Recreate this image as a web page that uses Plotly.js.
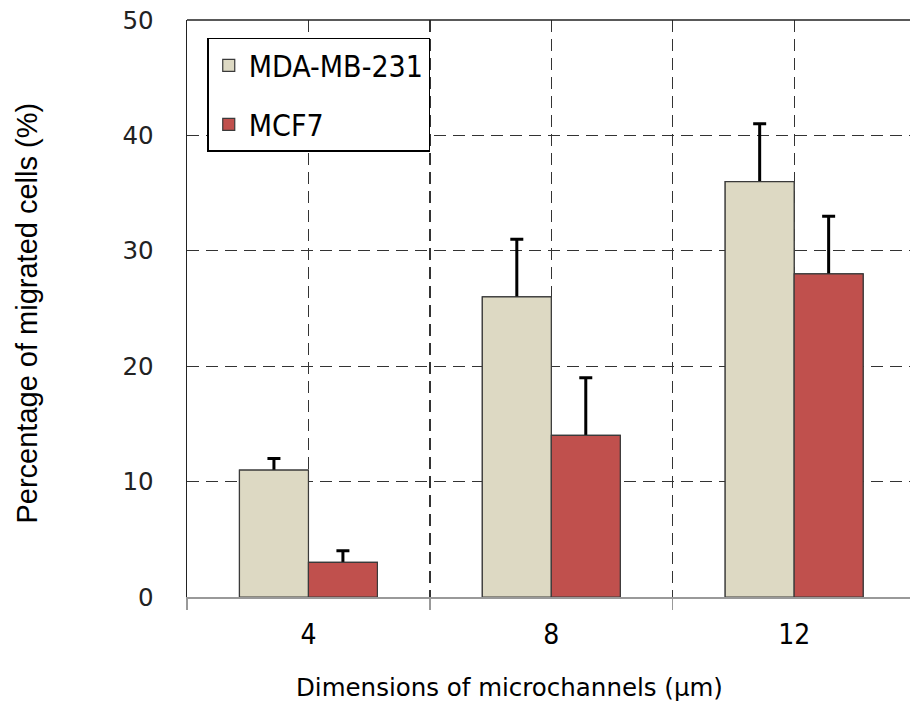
<!DOCTYPE html>
<html>
<head>
<meta charset="utf-8">
<script src="https://cdn.plot.ly/plotly-3.0.1.min.js"></script>
<style>html,body{margin:0;padding:0;background:#fff;}#chart{width:910px;height:710px;}</style>
</head>
<body>
<div id="chart"></div>
<script>
// Data
const categories = ['4', '8', '12'];
const seriesNames = ['MDA-MB-231', 'MCF7'];
const mdaValues = [11, 26, 36];
const mdaErrors = [1, 5, 5];
const mcfValues = [3, 14, 28];
const mcfErrors = [1, 5, 5];
const yTicks = [0, 10, 20, 30, 40, 50];
const xTitle = 'Dimensions of microchannels (µm)';
const yTitle = 'Percentage of migrated cells (%)';

const xPos = categories.map((c, i) => i);
const colors = ['#DDD9C3', '#C0504D'];
const outline = {color: '#3a3a3a', width: 1.2};

// Error bars run from the bar top upward; the lower end is hidden under a cover bar
function errTrace(name, vals, errs, color, group) {
  return {
    type: 'bar', name: name, x: xPos, y: vals, offsetgroup: group, legendgroup: group,
    marker: {color: color, line: outline},
    error_y: {type: 'data', symmetric: false, array: errs, arrayminus: vals,
              color: '#000', thickness: 3, width: 6.5}
  };
}
function coverTrace(name, vals, color, group) {
  return {
    type: 'bar', name: name, x: xPos, y: vals, offsetgroup: group, legendgroup: group,
    showlegend: false, hoverinfo: 'skip',
    marker: {color: color, line: outline}
  };
}

const traces = [
  errTrace(seriesNames[0], mdaValues, mdaErrors, colors[0], 'a'),
  errTrace(seriesNames[1], mcfValues, mcfErrors, colors[1], 'b'),
  coverTrace(seriesNames[0], mdaValues, colors[0], 'a'),
  coverTrace(seriesNames[1], mcfValues, colors[1], 'b')
];

const gridDash = '12px,7px';
const gridColor = '#333';
const layout = {
  width: 910, height: 710,
  margin: {l: 187, r: 0, t: 20, b: 113},
  paper_bgcolor: '#fff', plot_bgcolor: '#fff',
  font: {family: 'DejaVu Sans, Verdana, sans-serif', color: '#000', size: 22},
  barmode: 'group', bargap: 0.432, bargroupgap: 0,
  showlegend: true,
  legend: {
    x: 0.028, y: 0.969, xanchor: 'left', yanchor: 'top',
    bgcolor: '#fff', bordercolor: '#000', borderwidth: 1.5,
    font: {family: 'DejaVu Sans Condensed, Liberation Sans, sans-serif', size: 30, color: '#000'},
    tracegroupgap: 17
  },
  xaxis: {
    type: 'linear', range: [-0.5, 2.477],
    tickmode: 'array', tickvals: xPos, ticktext: categories,
    ticks: '', ticklabelstandoff: 12,
    tickfont: {family: 'DejaVu Sans Condensed, Liberation Sans, sans-serif', size: 28},
    showline: true, linecolor: '#999', linewidth: 1.5,
    showgrid: true, gridcolor: gridColor, gridwidth: 1.3, griddash: gridDash,
    zeroline: false,
    minor: {tick0: -0.5, dtick: 1, ticks: 'outside', ticklen: 11, tickcolor: '#999', tickwidth: 1.5,
            showgrid: true, gridcolor: gridColor, gridwidth: 1.3, griddash: gridDash}
  },
  yaxis: {
    range: [0, 50], tickmode: 'array', tickvals: yTicks,
    ticks: '', ticklabelstandoff: 27,
    tickfont: {size: 24.5, color: '#222'},
    showline: true, linecolor: '#222', linewidth: 1.5,
    showgrid: true, gridcolor: gridColor, gridwidth: 1.3, griddash: gridDash,
    zeroline: false
  },
  annotations: [
    {text: xTitle, xref: 'paper', yref: 'paper', x: 0.446, y: -0.157,
     xanchor: 'center', yanchor: 'middle', showarrow: false,
     font: {family: 'DejaVu Sans, Verdana, sans-serif', size: 24.5, color: '#000'}},
    {text: yTitle, xref: 'paper', yref: 'paper', x: -0.2213, y: 0.4913, textangle: -90,
     xanchor: 'center', yanchor: 'middle', showarrow: false,
     font: {family: 'Liberation Sans, Arial, sans-serif', size: 29, color: '#000'}}
  ],
  shapes: [
    {type: 'line', xref: 'paper', yref: 'paper', x0: 0, x1: 1, y0: 1, y1: 1, line: {color: '#222', width: 1.5}}
  ]
};

Plotly.newPlot('chart', traces, layout, {displayModeBar: false, staticPlot: true});
</script>
</body>
</html>
